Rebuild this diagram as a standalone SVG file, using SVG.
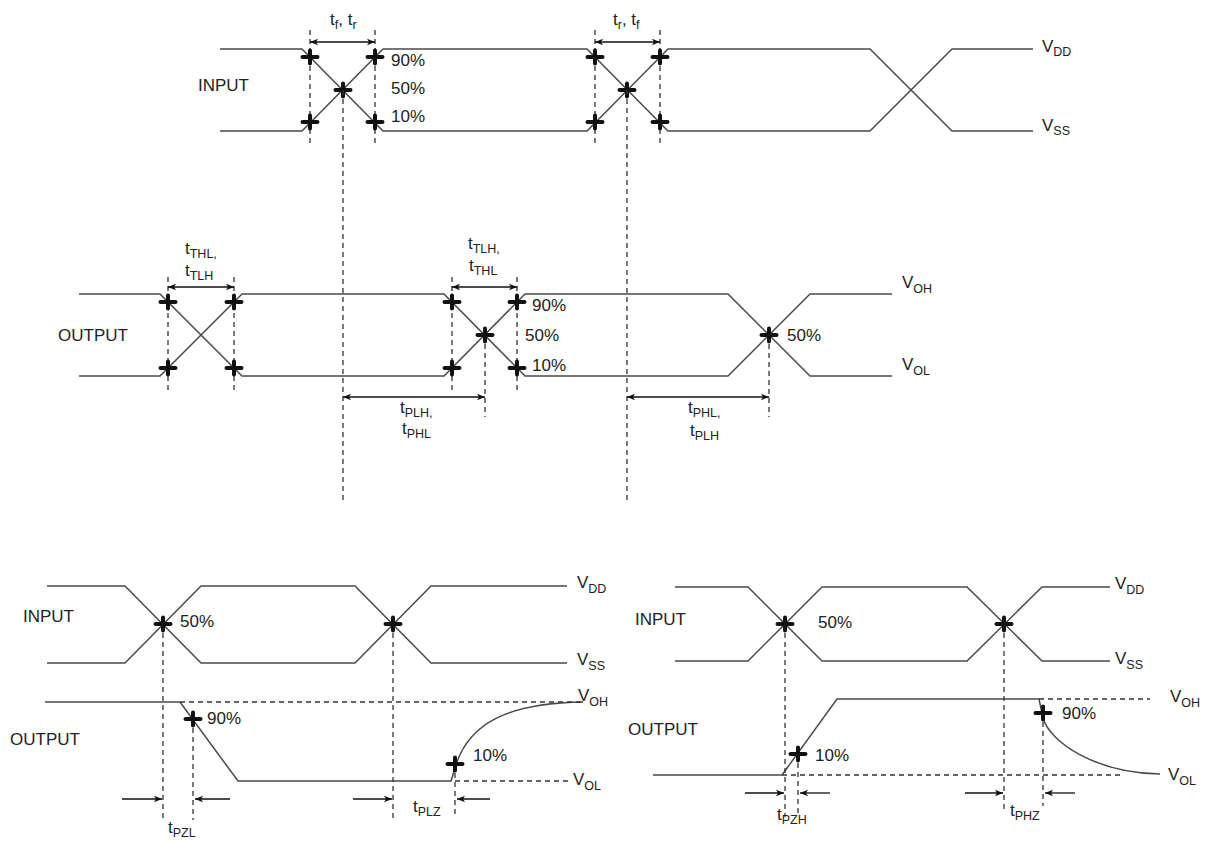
<svg xmlns="http://www.w3.org/2000/svg" xmlns:xlink="http://www.w3.org/1999/xlink" width="1209" height="842" viewBox="0 0 1209 842">
<style>
.w{fill:none;stroke:#4a4a4a;stroke-width:1.5}
.d{fill:none;stroke:#333;stroke-width:1.3;stroke-dasharray:5 4}
.a{fill:none;stroke:#111;stroke-width:1.3}
.t{font-family:"Liberation Sans",Arial,sans-serif;font-size:17px;fill:#222}
.s{font-size:12.5px}
</style>
<defs>
<g id="x"><path d="M-7.5,0 H7.5 M0,-6.5 V6.5" stroke="#111" stroke-width="4" stroke-linecap="round" fill="none"/></g>
<marker id="ah" viewBox="0 0 10 10" refX="10" refY="5" markerWidth="11" markerHeight="8" markerUnits="userSpaceOnUse" orient="auto-start-reverse"><path d="M0,1 L10,5 L0,9 L2.5,5 Z" fill="#111"/></marker>
</defs>
<rect width="1209" height="842" fill="#fff"/>

<g id="top-input">
<path class="w" d="M220,49 H302 L383,131 H587 L668,49 H870 L952,131 H1033"/>
<path class="w" d="M220,131 H302 L383,49 H587 L668,131 H870 L952,49 H1033"/>
<path class="d" d="M310,30 V145 M375,30 V145 M595,30 V145 M660,30 V145"/>
<use href="#x" x="310" y="57"/><use href="#x" x="375" y="57"/><use href="#x" x="310" y="122"/><use href="#x" x="375" y="122"/><use href="#x" x="343" y="90"/>
<use href="#x" x="595" y="57"/><use href="#x" x="660" y="57"/><use href="#x" x="595" y="122"/><use href="#x" x="660" y="122"/><use href="#x" x="627" y="90"/>
<text class="t" x="198" y="91">INPUT</text>
<text class="t" x="391" y="66">90%</text>
<text class="t" x="391" y="94">50%</text>
<text class="t" x="391" y="122">10%</text>
<text class="t" x="330" y="25">t<tspan class="s" dy="4">f</tspan><tspan dy="-4">, t</tspan><tspan class="s" dy="4">r</tspan></text>
<text class="t" x="613" y="25">t<tspan class="s" dy="4">r</tspan><tspan dy="-4">, t</tspan><tspan class="s" dy="4">f</tspan></text>
<text class="t" x="1042" y="52">V<tspan class="s" dy="4">DD</tspan></text>
<text class="t" x="1042" y="131">V<tspan class="s" dy="4">SS</tspan></text>
</g>

<g id="top-output">
<path class="w" d="M79,294 H160 L242,376 H444 L525,294 H728 L810,376 H892"/>
<path class="w" d="M79,376 H160 L242,294 H444 L525,376 H728 L810,294 H892"/>
<path class="d" d="M168,277 V390 M234,277 V390 M452,277 V390 M517,277 V390 M485,335 V417 M769,335 V417"/>
<use href="#x" x="168" y="302"/><use href="#x" x="234" y="302"/><use href="#x" x="168" y="368"/><use href="#x" x="234" y="368"/>
<use href="#x" x="452" y="302"/><use href="#x" x="517" y="302"/><use href="#x" x="452" y="368"/><use href="#x" x="517" y="368"/><use href="#x" x="485" y="335"/>
<use href="#x" x="769" y="335"/>
<text class="t" x="58" y="341">OUTPUT</text>
<text class="t" x="532" y="311">90%</text>
<text class="t" x="525" y="341">50%</text>
<text class="t" x="532" y="371">10%</text>
<text class="t" x="787" y="341">50%</text>
<text class="t" x="185" y="254">t<tspan class="s" dy="4">THL</tspan><tspan class="s">,</tspan></text>
<text class="t" x="185" y="276">t<tspan class="s" dy="4">TLH</tspan></text>
<text class="t" x="468" y="249">t<tspan class="s" dy="4">TLH</tspan><tspan class="s">,</tspan></text>
<text class="t" x="469" y="271">t<tspan class="s" dy="4">THL</tspan></text>
<text class="t" x="400" y="413">t<tspan class="s" dy="4">PLH</tspan><tspan class="s">,</tspan></text>
<text class="t" x="402" y="434">t<tspan class="s" dy="4">PHL</tspan></text>
<text class="t" x="688" y="413">t<tspan class="s" dy="4">PHL</tspan><tspan class="s">,</tspan></text>
<text class="t" x="690" y="436">t<tspan class="s" dy="4">PLH</tspan></text>
<text class="t" x="902" y="288">V<tspan class="s" dy="5">OH</tspan></text>
<text class="t" x="902" y="370">V<tspan class="s" dy="5">OL</tspan></text>
</g>

<g id="bottom-left">
<path class="w" d="M47,586 H125 L201,663 H355 L431,586 H567"/>
<path class="w" d="M47,663 H125 L201,586 H355 L431,663 H567"/>
<path class="w" d="M45,702 H180 L238,781 H451 L455,768 C468,722 510,703 583,702"/>
<path class="d" d="M180,702 H583 M455,781 H570"/>
<path class="d" d="M163,624 V820 M193,719 V820 M393,624 V820 M455,764 V818"/>
<use href="#x" x="163" y="624"/><use href="#x" x="393" y="624"/><use href="#x" x="193" y="719"/><use href="#x" x="455" y="764"/>
<text class="t" x="23" y="622">INPUT</text>
<text class="t" x="180" y="627">50%</text>
<text class="t" x="10" y="745">OUTPUT</text>
<text class="t" x="207" y="724">90%</text>
<text class="t" x="473" y="761">10%</text>
<text class="t" x="577" y="588">V<tspan class="s" dy="5">DD</tspan></text>
<text class="t" x="577" y="665">V<tspan class="s" dy="5">SS</tspan></text>
<text class="t" x="578" y="701">V<tspan class="s" dy="5">OH</tspan></text>
<text class="t" x="573" y="785">V<tspan class="s" dy="5">OL</tspan></text>
<text class="t" x="168" y="833">t<tspan class="s" dy="4">PZL</tspan></text>
<text class="t" x="413" y="812">t<tspan class="s" dy="4">PLZ</tspan></text>
</g>

<g id="bottom-right">
<path class="w" d="M675,587 H748 L822,661 H967 L1042,587 H1110"/>
<path class="w" d="M675,661 H748 L822,587 H967 L1042,661 H1110"/>
<path class="w" d="M653,775 H782 L837,699 H1039 L1043,718 C1050,742 1095,773 1160,774"/>
<path class="d" d="M1039,699 H1150 M782,775 H1123"/>
<path class="d" d="M785,624 V817 M798,754 V817 M1004,624 V809 M1043,713 V806"/>
<use href="#x" x="785" y="624"/><use href="#x" x="1004" y="624"/><use href="#x" x="798" y="754"/><use href="#x" x="1043" y="713"/>
<text class="t" x="635" y="625">INPUT</text>
<text class="t" x="818" y="628">50%</text>
<text class="t" x="628" y="735">OUTPUT</text>
<text class="t" x="815" y="761">10%</text>
<text class="t" x="1062" y="719">90%</text>
<text class="t" x="1115" y="589">V<tspan class="s" dy="5">DD</tspan></text>
<text class="t" x="1115" y="664">V<tspan class="s" dy="5">SS</tspan></text>
<text class="t" x="1170" y="702">V<tspan class="s" dy="5">OH</tspan></text>
<text class="t" x="1168" y="780">V<tspan class="s" dy="5">OL</tspan></text>
<text class="t" x="777" y="820">t<tspan class="s" dy="4">PZH</tspan></text>
<text class="t" x="1010" y="816">t<tspan class="s" dy="4">PHZ</tspan></text>
</g>

<g id="connectors">
<path class="d" d="M343,90 V500 M627,90 V500"/>
<path class="a" d="M310,42 H375" marker-start="url(#ah)" marker-end="url(#ah)"/>
<path class="a" d="M595,42 H660" marker-start="url(#ah)" marker-end="url(#ah)"/>
<path class="a" d="M168,287 H234" marker-start="url(#ah)" marker-end="url(#ah)"/>
<path class="a" d="M452,287 H517" marker-start="url(#ah)" marker-end="url(#ah)"/>
<path class="a" d="M343,397 H485" marker-start="url(#ah)" marker-end="url(#ah)"/>
<path class="a" d="M627,397 H769" marker-start="url(#ah)" marker-end="url(#ah)"/>
<path class="a" d="M122,799 H162" marker-end="url(#ah)"/>
<path class="a" d="M230,799 H195" marker-end="url(#ah)"/>
<path class="a" d="M353,799 H392" marker-end="url(#ah)"/>
<path class="a" d="M490,799 H457" marker-end="url(#ah)"/>
<path class="a" d="M745,793 H784" marker-end="url(#ah)"/>
<path class="a" d="M830,793 H800" marker-end="url(#ah)"/>
<path class="a" d="M965,793 H1003" marker-end="url(#ah)"/>
<path class="a" d="M1075,793 H1045" marker-end="url(#ah)"/>
</g>
</svg>
